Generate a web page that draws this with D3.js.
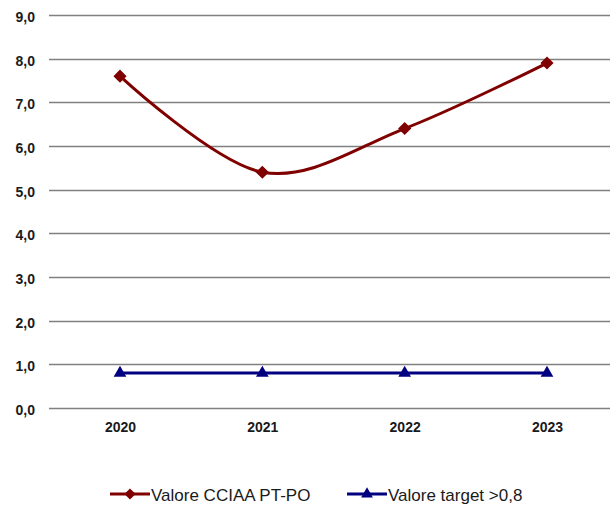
<!DOCTYPE html>
<html>
<head>
<meta charset="utf-8">
<script src="https://cdn.jsdelivr.net/npm/d3@7"></script>
<style>
  body { margin: 0; background: #fff; }
  svg { display: block; font-family: "Liberation Sans", Arial, sans-serif; }
</style>
</head>
<body>
<svg id="chart" width="610" height="507"></svg>
<script>
const years = ['2020', '2021', '2022', '2023'];
const valoreCciaa = [7.6, 5.4, 6.4, 7.9];
const valoreTarget = [0.8, 0.8, 0.8, 0.8];
const yTicks = [0, 1, 2, 3, 4, 5, 6, 7, 8, 9];
const legendLabels = ['Valore CCIAA PT-PO', 'Valore target >0,8'];

const svg = d3.select('#chart');
const red = '#800000';
const blue = '#000080';

const x_scale = d3.scalePoint().domain(years).range([120, 547]);
const y_scale = d3.scaleLinear().domain([0, 9]).range([408, 15]);

// gridlines
svg.append('g')
  .selectAll('line')
  .data(yTicks)
  .join('line')
  .attr('x1', 49).attr('x2', 618)
  .attr('y1', d => Math.round(y_scale(d)) + 0.5)
  .attr('y2', d => Math.round(y_scale(d)) + 0.5)
  .attr('stroke', '#808080')
  .attr('stroke-width', 1.3);

// y axis labels
const y_axis = d3.axisLeft(y_scale)
  .tickValues(yTicks)
  .tickSize(0)
  .tickPadding(0)
  .tickFormat(d => d3.format('.1f')(d).replace('.', ','));
svg.append('g')
  .attr('transform', 'translate(35,2)')
  .call(y_axis)
  .call(g => g.select('.domain').remove())
  .selectAll('text')
  .attr('font-size', 14)
  .attr('font-weight', 'bold')
  .attr('fill', '#1a1a1a')
  .attr('font-family', '"Liberation Sans", Arial, sans-serif');

// x axis labels
const x_axis = d3.axisBottom(x_scale).tickSize(0).tickPadding(14);
svg.append('g')
  .attr('transform', 'translate(0,408)')
  .call(x_axis)
  .call(g => g.select('.domain').remove())
  .selectAll('text')
  .attr('font-size', 14)
  .attr('font-weight', 'bold')
  .attr('fill', '#1a1a1a')
  .attr('font-family', '"Liberation Sans", Arial, sans-serif');

const series = [
  { values: valoreCciaa, color: red, symbol: d3.symbolDiamond2, curve: d3.curveCardinal.tension(0) },
  { values: valoreTarget, color: blue, symbol: d3.symbolTriangle, curve: d3.curveLinear }
];

series.forEach(s => {
  const line = d3.line()
    .x((d, i) => x_scale(years[i]))
    .y(d => y_scale(d))
    .curve(s.curve);
  svg.append('path')
    .datum(s.values)
    .attr('fill', 'none')
    .attr('stroke', s.color)
    .attr('stroke-width', 3)
    .attr('d', line);
  svg.append('g')
    .selectAll('path')
    .data(s.values)
    .join('path')
    .attr('transform', (d, i) => 'translate(' + x_scale(years[i]) + ',' + y_scale(d) + ')')
    .attr('d', d3.symbol(s.symbol, s.symbol === d3.symbolTriangle ? 70 : 110))
    .attr('fill', s.color);
});

// legend
const legendX = [110, 347];
series.forEach((s, i) => {
  const g = svg.append('g').attr('transform', 'translate(' + legendX[i] + ',494)');
  g.append('line').attr('x1', 0).attr('x2', 40).attr('y1', 0).attr('y2', 0)
    .attr('stroke', s.color).attr('stroke-width', 3);
  g.append('path').attr('transform', 'translate(20,0)')
    .attr('d', d3.symbol(s.symbol, s.symbol === d3.symbolTriangle ? 60 : 80))
    .attr('fill', s.color);
  g.append('text').attr('x', 41).attr('y', 6.5)
    .attr('font-size', 17).attr('fill', '#1a1a1a')
    .text(legendLabels[i]);
});
</script>
</body>
</html>
